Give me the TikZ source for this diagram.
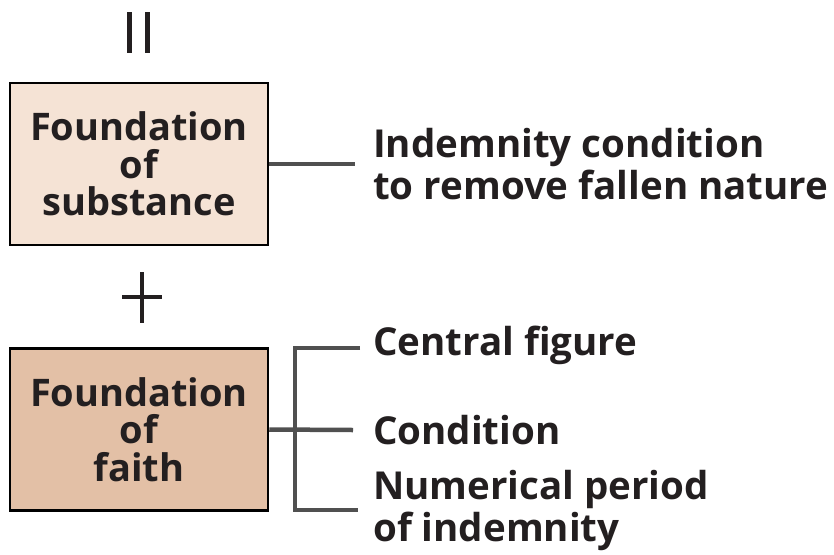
\documentclass[tikz,border=0pt]{standalone}
\usepackage{fontspec}
\setmainfont{Open Sans}
\usepackage{tikz}
\usetikzlibrary{positioning,calc}
\definecolor{FdnLight}{RGB}{245,227,213}
\definecolor{FdnDark}{RGB}{227,192,166}
\definecolor{FdnInk}{RGB}{35,31,32}
\definecolor{FdnLink}{RGB}{80,80,80}
\tikzset{
  fdn/box/.style={
    draw=black,
    line width=2.5pt,
    align=center,
    text=FdnInk,
    minimum width=258pt,
    minimum height=162pt,
    inner sep=0pt,
    font=\fontsize{38}{37.5}\selectfont\bfseries
  },
  fdn/label/.style={
    anchor=west,
    align=left,
    text=FdnInk,
    inner sep=0pt,
    font=\fontsize{38.5}{42}\selectfont\bfseries
  },
  fdn/link/.style={line width=4.5pt, draw=FdnLink},
  fdn/sign/.style={line width=3.5pt, draw=FdnInk}
}
\begin{document}
\begin{tikzpicture}[x=1pt,y=-1pt]
  \useasboundingbox (0,0) rectangle (834,554);
  % boxes
  \node[fdn/box, fill=FdnLight] (subst) at (139,164) {Foundation\\of\\substance};
  \node[fdn/box, fill=FdnDark] (faith) at (139,429.5) {Foundation\\of\\faith};
  % labels
  \node[fdn/label] (indem) at (373,164) {Indemnity condition\\to remove fallen nature};
  \node[fdn/label] (central) at (373,345) {Central figure};
  \node[fdn/label] (cond) at (373,430) {Condition};
  \node[fdn/label] (numer) at (373,510) {Numerical period\\of indemnity};
  % signs
  \draw[fdn/sign, line width=4.5pt] (129.5,12) -- (129.5,53);
  \draw[fdn/sign, line width=4.5pt] (147.5,12) -- (147.5,53);
  \draw[fdn/sign] (122,297) -- (162,297);
  \draw[fdn/sign] (142,272) -- (142,323);
  % links
  \coordinate (spine) at (295,430);
  \draw[fdn/link] (subst.east) -- ([xshift=-18]indem.west);
  \draw[fdn/link] (faith.east) -- ([xshift=-20]cond.west);
  \draw[fdn/link] ([xshift=-13]central.west |- 0,348) -| (spine) |- ([xshift=-15]numer.west);
\end{tikzpicture}
\end{document}
